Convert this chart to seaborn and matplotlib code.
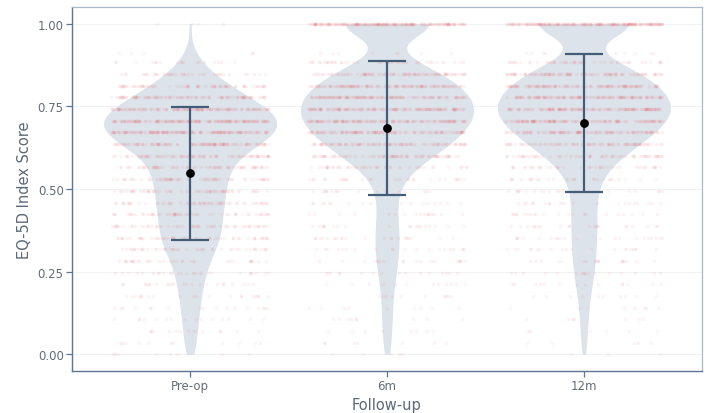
import numpy as np
import pandas as pd
import matplotlib
matplotlib.use("Agg")
import matplotlib.pyplot as plt
import seaborn as sns

# ---------------- data ----------------
categories = ["Pre-op", "6m", "12m"]

score_levels = [1.000, 0.910, 0.883, 0.848, 0.812, 0.777, 0.742, 0.707,
                0.671, 0.636, 0.601, 0.565, 0.530, 0.494, 0.459, 0.424,
                0.388, 0.353, 0.318, 0.283, 0.247, 0.212, 0.177, 0.141,
                0.106, 0.071, 0.035, 0.000]

counts_preop = [4, 5, 18, 40, 70, 105, 140, 170,
                165, 120, 85, 70, 66, 63, 60, 58,
                56, 54, 46, 34, 28, 23, 20, 17,
                15, 13, 11, 8]

counts_6m = [200, 8, 45, 100, 125, 140, 150, 145,
             130, 105, 80, 45, 28, 18, 17, 17,
             19, 21, 20, 18, 16, 12, 10, 9,
             9, 8, 7, 5]

counts_12m = [210, 10, 50, 105, 125, 140, 150, 140,
              120, 90, 65, 40, 28, 22, 21, 21,
              21, 21, 20, 19, 17, 14, 10, 8,
              7, 6, 5, 3]

mean_scores = [0.547, 0.685, 0.699]
sd_scores = [0.200, 0.203, 0.208]

y_ticks = [0.00, 0.25, 0.50, 0.75, 1.00]
y_tick_labels = ["0.00", "0.25", "0.50", "0.75", "1.00"]

x_title = "Follow-up"
y_title = "EQ-5D Index Score"

# ---------------- build long table ----------------
frames = []
for cat, cnts in zip(categories, [counts_preop, counts_6m, counts_12m]):
    vals = np.repeat(score_levels, cnts)
    frames.append(pd.DataFrame({"group": cat, "score": vals}))
df = pd.concat(frames, ignore_index=True)
stats = pd.DataFrame({"group": categories, "mean": mean_scores, "sd": sd_scores})

# ---------------- style ----------------
sns.set_theme(style="white")
plt.rcParams["font.family"] = ["DejaVu Sans"]

violin_col = "#dde3ea"
point_col = "#e8505b"
err_col = "#435c78"
axis_dark = "#5d7591"
axis_light = "#a9b8c8"
text_col = "#636c78"
title_col = "#5c6777"

np.random.seed(3)

fig, ax = plt.subplots(figsize=(7.1, 4.14), dpi=100)
fig.subplots_adjust(left=0.1014, right=0.9887, top=0.9807, bottom=0.1014)

for yv in y_ticks:
    ax.axhline(yv, color="#f0f2f5", lw=0.8, zorder=0)

sns.violinplot(data=df, x="group", y="score", order=categories, cut=0,
               density_norm="width", width=0.88, bw_method=0.2, inner=None,
               color=violin_col, saturation=1, linewidth=0, ax=ax, zorder=1)

sns.stripplot(data=df, x="group", y="score", order=categories, jitter=0.4,
              size=2.5, color=point_col, alpha=0.07, linewidth=0, ax=ax,
              zorder=2)

xpos = [categories.index(g) for g in stats["group"]]
ax.errorbar(xpos, stats["mean"], yerr=stats["sd"], fmt="none",
            ecolor=err_col, elinewidth=1.6, capsize=14, capthick=1.6,
            zorder=3)
ax.scatter(xpos, stats["mean"], s=28, color="black", zorder=4)

ax.set_xlim(-0.6, 2.6)
ax.set_ylim(-0.05, 1.05)
ax.set_yticks(y_ticks)
ax.set_yticklabels(y_tick_labels)
ax.set_xlabel(x_title, color=title_col, fontsize=10.5, labelpad=3)
ax.set_ylabel(y_title, color=title_col, fontsize=10.5, labelpad=4)

ax.tick_params(axis="both", colors=text_col, labelsize=8.5, length=4,
               width=0.9, direction="out", left=True, bottom=True, pad=2)
ax.tick_params(axis="both", color=axis_dark)
for side in ["left", "bottom"]:
    ax.spines[side].set_color(axis_dark)
    ax.spines[side].set_linewidth(1.0)
for side in ["top", "right"]:
    ax.spines[side].set_color(axis_light)
    ax.spines[side].set_linewidth(0.9)

fig.savefig("out.png", dpi=100, facecolor="white")
